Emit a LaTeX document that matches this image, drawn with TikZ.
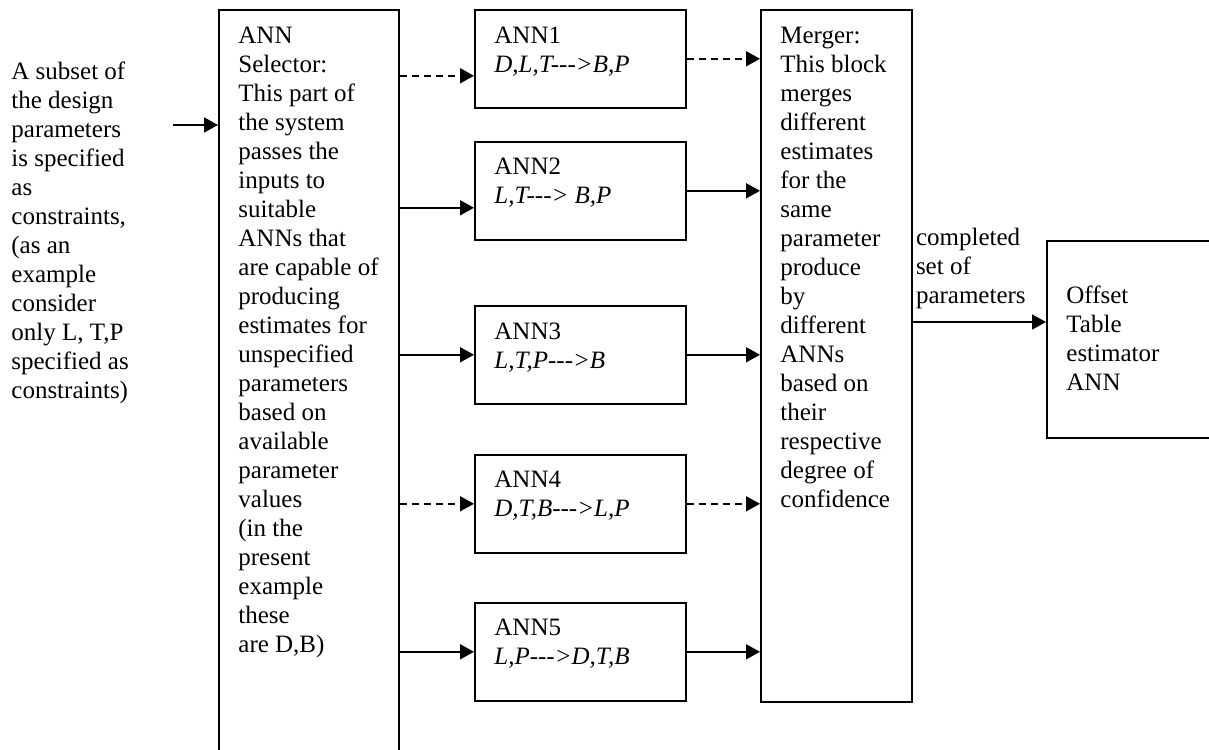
\documentclass[tikz,border=0pt]{standalone}
\usepackage{fontspec}
\setmainfont{Liberation Serif}
\usetikzlibrary{arrows.meta,calc,positioning}
\newcommand{\annto}{-\kern0pt-\kern0pt->}

\begin{document}
\begin{tikzpicture}[x=0.5pt, y=-0.5pt,
  box/.style={draw, line width=0.8pt, inner sep=0pt, anchor=north west},
  txt/.style={inner sep=0pt, anchor=north west, align=left, font=\fontsize{12.5}{14.5}\selectfont},
  arr/.style={line width=0.9pt, -{Triangle[length=7pt, width=7.5pt]}},
  dasharr/.style={arr, dash pattern=on 3.5pt off 2.5pt}]
\useasboundingbox (0,0) rectangle (1209,749);
\clip (0,0) rectangle (1209,749);
\node[txt] (intxt) at (11,61) {A subset of\\the design\\parameters\\is specified\\as\\constraints,\\(as an\\example\\consider\\only L, T,P\\specified as\\constraints)};
\node[box, minimum width=90pt, minimum height=380pt] (sel) at (218,9) {};
\node[txt] (seltxt) at ($(sel.north west)+(20,18)$) {ANN\\Selector:\\This part of\\the system\\passes the\\inputs to\\suitable\\ANNs that\\are capable of\\producing\\estimates for\\unspecified\\parameters\\based on\\available\\parameter\\values\\(in the\\present\\example\\these\\are D,B)};
\node[box, minimum width=105.5pt, minimum height=49pt] (a1) at (474,9) {};
\node[box, minimum width=105.5pt, minimum height=49pt] (a2) at (474,141) {};
\node[box, minimum width=105.5pt, minimum height=49pt] (a3) at (474,305) {};
\node[box, minimum width=105.5pt, minimum height=49pt] (a4) at (474,454) {};
\node[box, minimum width=105.5pt, minimum height=49pt] (a5) at (474,602) {};
\node[txt] (a1txt) at ($(a1.north west)+(20,18)$) {ANN1\\\textit{D,L,T\annto B,P}};
\node[txt] (a2txt) at ($(a2.north west)+(20,17)$) {ANN2\\\textit{L,T\annto{} B,P}};
\node[txt] (a3txt) at ($(a3.north west)+(20,18)$) {ANN3\\\textit{L,T,P\annto B}};
\node[txt] (a4txt) at ($(a4.north west)+(20,17)$) {ANN4\\\textit{D,T,B\annto L,P}};
\node[txt] (a5txt) at ($(a5.north west)+(20,17)$) {ANN5\\\textit{L,P\annto D,T,B}};
\node[box, minimum width=75.5pt, minimum height=346pt] (mrg) at (760,9) {};
\node[txt] (mrgtxt) at ($(mrg.north west)+(20,18)$) {Merger:\\This block\\merges\\different\\estimates\\for the\\same\\parameter\\produce\\by\\different\\ANNs\\based on\\their\\respective\\degree of\\confidence};
\node[box, minimum width=100pt, minimum height=98.5pt] (ofs) at (1046,240) {};
\node[txt] (ofstxt) at ($(ofs.north west)+(20,45)$) {Offset\\Table\\estimator\\ANN};
\coordinate (cin) at (173,125);
\coordinate (cout) at (0,322);
\draw[arr] (cin) -- (sel.west |- cin);
\draw[dasharr] (sel.east |- {$(a1.west)+(0,17)$}) -- ($(a1.west)+(0,17)$);
\draw[arr] (sel.east |- {$(a2.west)+(0,17)$}) -- ($(a2.west)+(0,17)$);
\draw[arr] (sel.east |- a3.west) -- (a3.west);
\draw[dasharr] (sel.east |- a4.west) -- (a4.west);
\draw[arr] (sel.east |- a5.west) -- (a5.west);
\draw[dasharr] (a1.east) -- (mrg.west |- a1.east);
\draw[arr] (a2.east) -- (mrg.west |- a2.east);
\draw[arr] (a3.east) -- (mrg.west |- a3.east);
\draw[dasharr] (a4.east) -- (mrg.west |- a4.east);
\draw[arr] (a5.east) -- (mrg.west |- a5.east);
\draw[arr] (mrg.east |- cout) -- (ofs.west |- cout);
\node[txt, anchor=south west] (outtxt) at ($(mrg.east |- cout)+(3,-13)$) {completed\\set of\\parameters};
\end{tikzpicture}
\end{document}
